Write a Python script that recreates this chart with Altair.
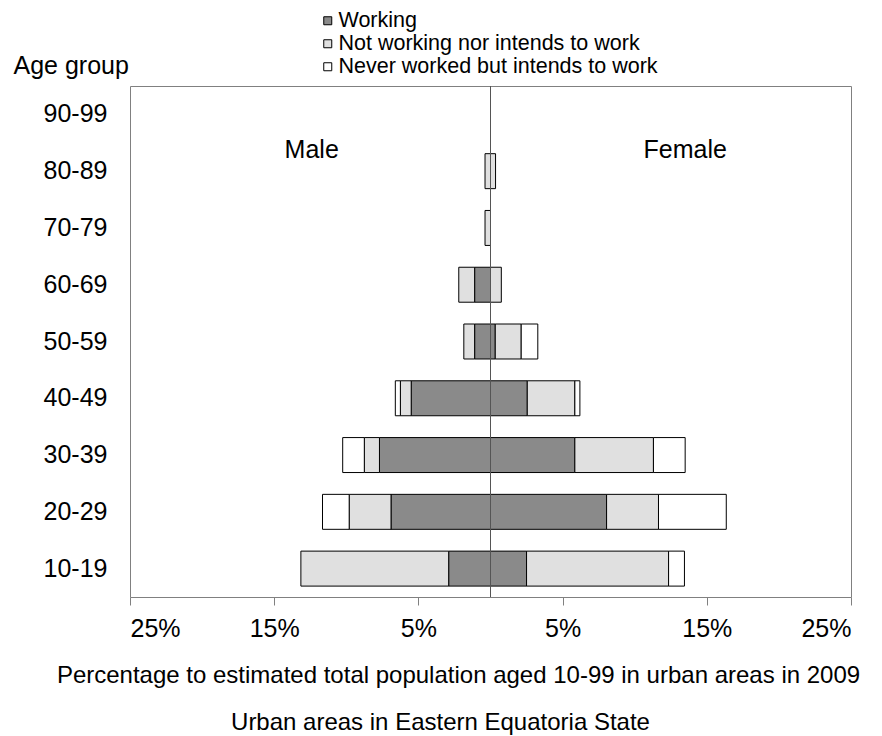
import altair as alt
import pandas as pd

ages = ["90-99", "80-89", "70-79", "60-69", "50-59", "40-49", "30-39", "20-29", "10-19"]
categories = ["Working", "Not working nor intends to work", "Never worked but intends to work"]
colors = ["#8a8a8a", "#e0e0e0", "#ffffff"]

male_working = [0, 0, 0, 1.1, 1.1, 5.5, 7.7, 6.9, 2.9]
male_notwork = [0, 0.38, 0.38, 1.1, 0.75, 0.75, 1.05, 2.9, 10.25]
male_never = [0, 0, 0, 0, 0, 0.35, 1.5, 1.85, 0]
female_working = [0, 0, 0, 0, 0.33, 2.55, 5.85, 8.05, 2.5]
female_notwork = [0, 0.35, 0, 0.75, 1.8, 3.3, 5.45, 3.6, 9.85]
female_never = [0, 0, 0, 0, 1.15, 0.35, 2.2, 4.7, 1.1]

tick_values = [-25, -15, -5, 5, 15, 25]
sex_labels = ["Male", "Female"]
sex_label_x = [-12.4, 13.5]
x_title = "Percentage to estimated total population aged 10-99 in urban areas in 2009"
subtitle = "Urban areas in Eastern Equatoria State"

male = [male_working, male_notwork, male_never]
female = [female_working, female_notwork, female_never]
rows = []
for i, age in enumerate(ages):
    for k, cat in enumerate(categories):
        if male[k][i] > 0:
            rows.append({"age": age, "category": cat, "value": -male[k][i], "ord": k})
        if female[k][i] > 0:
            rows.append({"age": age, "category": cat, "value": female[k][i], "ord": k})
df = pd.DataFrame(rows)

W, H = 721, 511
x_scale = alt.Scale(domain=[-25, 25], nice=False, zero=False)

bars = alt.Chart(df).mark_bar(stroke="black", strokeWidth=1).encode(
    x=alt.X(
        "value:Q", stack="zero", scale=x_scale,
        axis=alt.Axis(
            values=tick_values, labelExpr="abs(datum.value) + '%'", title=x_title,
            grid=False, domain=False, tickSize=8, tickColor="#808080",
            labelFontSize=25, labelPadding=11, labelColor="black",
            titleFontSize=24, titleFontWeight="normal", titleColor="black",
            titlePadding=22, titleX=328,
        ),
    ),
    y=alt.Y(
        "age:N", sort=ages,
        scale=alt.Scale(domain=ages, paddingInner=0.384, paddingOuter=0.192),
        axis=alt.Axis(
            title="Age group", titleAngle=0, titleAlign="left", titleBaseline="middle",
            titleX=-117, titleY=-21, titleFontSize=25, titleFontWeight="normal",
            titleColor="black", ticks=False, domain=False, labelPadding=23,
            labelFontSize=25, labelColor="black",
        ),
    ),
    color=alt.Color(
        "category:N",
        scale=alt.Scale(domain=categories, range=colors),
        legend=alt.Legend(
            title=None, orient="none", legendX=187, legendY=-76, padding=0,
            labelFontSize=21.5, labelColor="black", labelLimit=0,
            symbolType="square", symbolSize=64,
            symbolStrokeColor="black", symbolStrokeWidth=1, rowPadding=0, labelOffset=0,
        ),
    ),
    order=alt.Order("ord:Q"),
)

center = alt.Chart(pd.DataFrame({"x": [0]})).mark_rule(color="#555555", strokeWidth=1).encode(
    x=alt.X("x:Q", scale=x_scale)
)

sex_text = alt.Chart(pd.DataFrame({"label": sex_labels, "x": sex_label_x})).mark_text(
    fontSize=25, align="center", baseline="middle", color="black"
).encode(x=alt.X("x:Q", scale=x_scale), y=alt.value(64), text="label:N")

sub_text = alt.Chart(pd.DataFrame({"t": [subtitle]})).mark_text(
    fontSize=24, align="center", baseline="alphabetic", color="black"
).encode(x=alt.value(310.5), y=alt.value(644), text="t:N")

chart = alt.layer(bars, center, sex_text, sub_text).properties(
    width=W, height=H,
    autosize=alt.AutoSizeParams(type="none"),
    padding={"left": 122, "top": 78, "right": 23, "bottom": 138},
).configure(font="Liberation Sans").configure_view(stroke="#808080", strokeWidth=1)

chart.save("out.html", embed_options={"renderer": "svg", "actions": False})
